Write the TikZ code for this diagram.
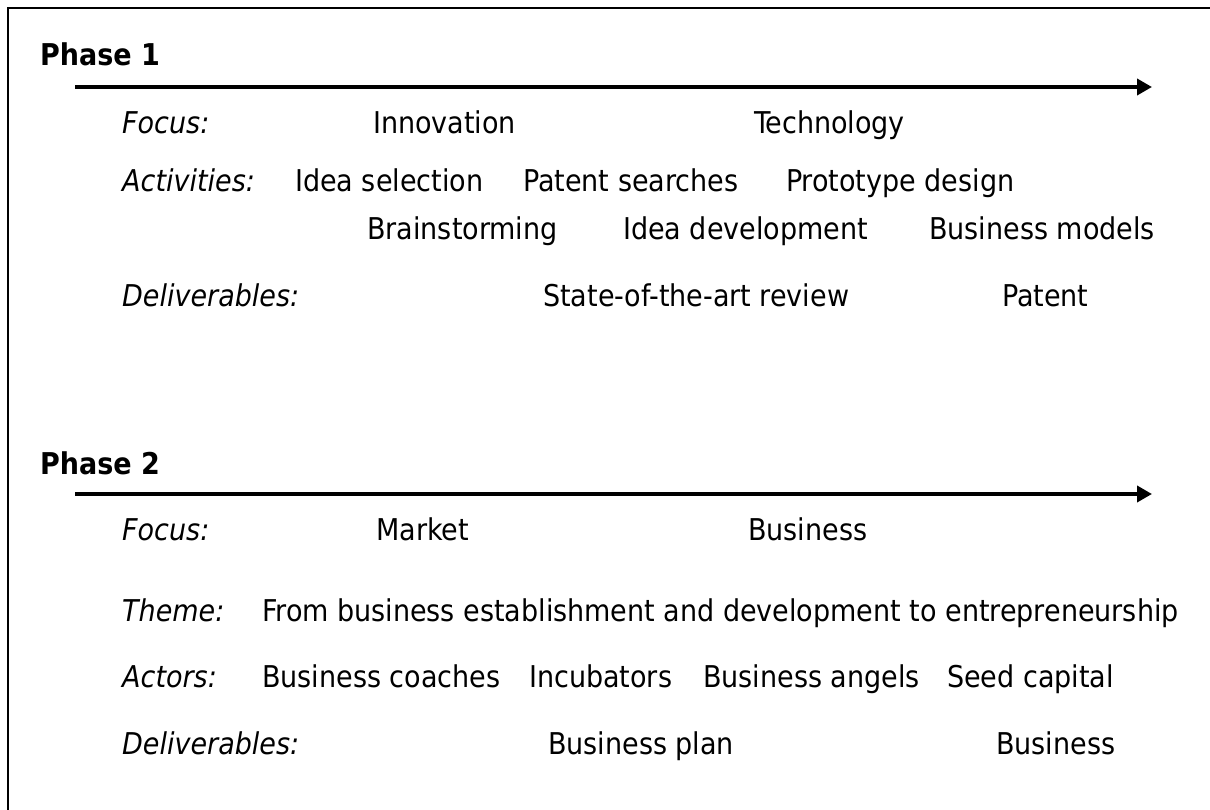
\documentclass[tikz,border=0pt]{standalone}
\usepackage{fontspec}
\setmainfont{DejaVu Sans Condensed}
\usetikzlibrary{arrows.meta}
\begin{document}
\begin{tikzpicture}[x=1pt,y=-1pt,
  lbl/.style={anchor=west,inner sep=0pt,text height=21pt,text depth=0pt,font=\fontsize{30}{34}\selectfont},
  key/.style={lbl,font=\fontsize{30}{34}\selectfont\itshape},
  phase/.style={lbl,font=\fontsize{30}{34}\selectfont\bfseries},
  timeline/.style={line width=4.5pt,-{Triangle[length=15pt,width=16pt]}}]
\useasboundingbox (0,0) rectangle (1210,810);

% frame (top and left edges only)
\draw[line width=1.5pt] (8,810) -- (8,8) -- (1210,8);

% Phase 1
\node[phase] (ph1) at (40,55) {Phase 1};
\coordinate (ph1start) at (75,87);
\coordinate (ph1end) at (1152,87);
\draw[timeline] (ph1start) -- (ph1end);

\node[key] (focus1) at (122,123) {Focus:};
\node[lbl] (innov) at (373,123) {Innovation};
\node[lbl] (tech) at (754,123) {Technology};

\node[key] (activ) at (122,181) {Activities:};
\node[lbl] (ideasel) at (295,181) {Idea selection};
\node[lbl] (patsearch) at (523,181) {Patent searches};
\node[lbl] (proto) at (786,181) {Prototype design};
\node[lbl] (brain) at (367,229) {Brainstorming};
\node[lbl] (ideadev) at (623,229) {Idea development};
\node[lbl] (bmodels) at (929,229) {Business models};

\node[key] (deliv1) at (122,296) {Deliverables:};
\node[lbl] (review) at (543,296) {State-of-the-art review};
\node[lbl] (patent) at (1002,296) {Patent};

% Phase 2
\node[phase] (ph2) at (40,464) {Phase 2};
\coordinate (ph2start) at (75,494);
\coordinate (ph2end) at (1152,494);
\draw[timeline] (ph2start) -- (ph2end);

\node[key] (focus2) at (122,530) {Focus:};
\node[lbl] (market) at (376,530) {Market};
\node[lbl] (business) at (748,530) {Business};

\node[key] (theme) at (122,611) {Theme:};
\node[lbl] (themetxt) at (262,611) {From business establishment and development to entrepreneurship};

\node[key] (actors) at (122,677) {Actors:};
\node[lbl] (coaches) at (262,677) {Business coaches};
\node[lbl] (incub) at (529,677) {Incubators};
\node[lbl] (angels) at (703,677) {Business angels};
\node[lbl] (seed) at (947,677) {Seed capital};

\node[key] (deliv2) at (122,744) {Deliverables:};
\node[lbl] (bplan) at (548,744) {Business plan};
\node[lbl] (bfinal) at (996,744) {Business};

\end{tikzpicture}
\end{document}
